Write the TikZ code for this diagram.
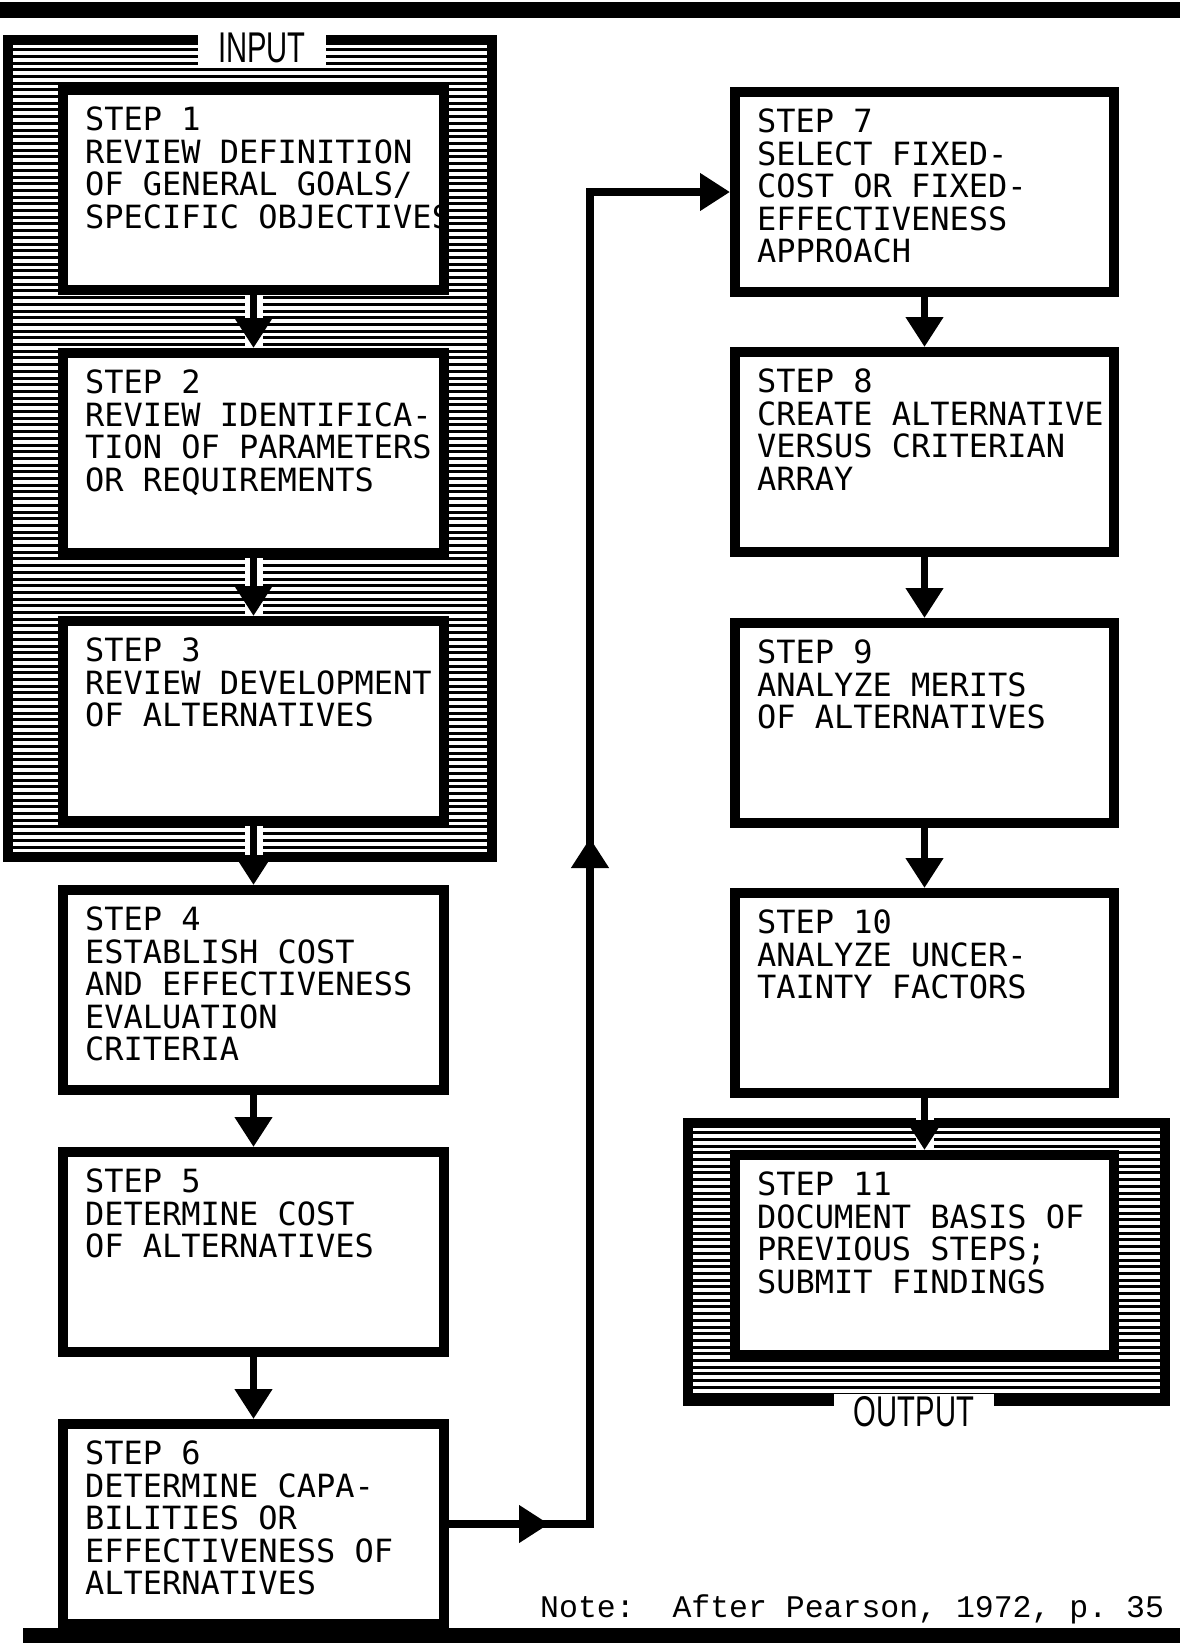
\documentclass[tikz,border=0pt]{standalone}
\usepackage{fontspec}
\newfontfamily\stepfont{DejaVu Sans Mono}
\newfontfamily\notefont{Liberation Mono}
\newfontfamily\framefont[FakeStretch=0.68]{Liberation Sans}
\usetikzlibrary{arrows.meta,decorations.markings}

\tikzset{
  stepbox/.style={draw, line width=10pt, fill=white, minimum width=381pt, minimum height=200pt, inner sep=0pt},
  steptext/.style={anchor=north west, align=left, inner xsep=27pt, inner ysep=22pt, outer sep=0pt,
    font=\stepfont\fontsize{32}{32.5}\selectfont},
  frame/.style={line width=10pt},
  hatch/.style={line width=3pt},
  framelabel/.style={fill=white, inner xsep=20pt, inner ysep=3pt, font=\framefont\fontsize{43}{43}\selectfont},
  flow/.style={line width=7.5pt, ->},
  halo/.style={draw=white, line width=18pt},
  link/.style={line width=7.5pt, ->, postaction={decorate},
    decoration={markings,
      mark=at position 100pt with {\arrow{>}},
      mark=at position 827pt with {\arrow{>}}}}
}

\begin{document}
\begin{tikzpicture}[x=1pt,y=-1pt,>={Triangle[width=36pt,length=30pt]}]
    \useasboundingbox (0,0) rectangle (1180,1643);

    % Rules
    \fill (0,2) rectangle (1180,18);
    \fill (23,1628) rectangle (1180,1643);

    % Shaded frames
    \begin{scope}
        \clip (8,40) rectangle (492,857);
        \foreach \i in {0,...,122}
            \draw[hatch] (8,{43+6.7*\i}) -- (492,{43+6.7*\i});
    \end{scope}
    \draw[frame] (8,40) rectangle (492,857);
    \begin{scope}
        \clip (688,1123) rectangle (1165,1401);
        \foreach \i in {0,...,41}
            \draw[hatch] (688,{1126+6.7*\i}) -- (1165,{1126+6.7*\i});
    \end{scope}
    \draw[frame] (688,1123) rectangle (1165,1401);

    % Left column
    \node[stepbox] (s1) at (253.5,190) {};
    \node[stepbox] (s2) at (253.5,453) {};
    \node[stepbox] (s3) at (253.5,721) {};
    \node[stepbox] (s4) at (253.5,990) {};
    \node[stepbox] (s5) at (253.5,1252) {};
    \node[stepbox] (s6) at (253.5,1524) {};

    % Right column
    \node[stepbox, minimum width=379pt] (s7) at (924.5,192) {};
    \node[stepbox, minimum width=379pt] (s8) at (924.5,452) {};
    \node[stepbox, minimum width=379pt] (s9) at (924.5,723) {};
    \node[stepbox, minimum width=379pt] (s10) at (924.5,993) {};
    \node[stepbox, minimum width=379pt] (s11) at (924.5,1255) {};

    \node[steptext] (t1) at (s1.north west) {STEP 1\\REVIEW DEFINITION\\OF GENERAL GOALS/\\SPECIFIC OBJECTIVES};
    \node[steptext] (t2) at (s2.north west) {STEP 2\\REVIEW IDENTIFICA-\\TION OF PARAMETERS\\OR REQUIREMENTS};
    \node[steptext] (t3) at (s3.north west) {STEP 3\\REVIEW DEVELOPMENT\\OF ALTERNATIVES};
    \node[steptext] (t4) at (s4.north west) {STEP 4\\ESTABLISH COST\\AND EFFECTIVENESS\\EVALUATION\\CRITERIA};
    \node[steptext] (t5) at (s5.north west) {STEP 5\\DETERMINE COST\\OF ALTERNATIVES};
    \node[steptext] (t6) at (s6.north west) {STEP 6\\DETERMINE CAPA-\\BILITIES OR\\EFFECTIVENESS OF\\ALTERNATIVES};
    \node[steptext] (t7) at (s7.north west) {STEP 7\\SELECT FIXED-\\COST OR FIXED-\\EFFECTIVENESS\\APPROACH};
    \node[steptext] (t8) at (s8.north west) {STEP 8\\CREATE ALTERNATIVE\\VERSUS CRITERIAN\\ARRAY};
    \node[steptext] (t9) at (s9.north west) {STEP 9\\ANALYZE MERITS\\OF ALTERNATIVES};
    \node[steptext] (t10) at (s10.north west) {STEP 10\\ANALYZE UNCER-\\TAINTY FACTORS};
    \node[steptext] (t11) at (s11.north west) {STEP 11\\DOCUMENT BASIS OF\\PREVIOUS STEPS;\\SUBMIT FINDINGS};

    % Frame labels
    \node[framelabel] (input) at (262,48) {INPUT};
    \node[framelabel] (output) at (914,1412) {OUTPUT};

    % Arrows
    \foreach \a/\b in {s1/s2, s2/s3, s3/s4, s10/s11}
        \draw[halo] (\a) -- (\b);
    \foreach \a/\b in {s1/s2, s2/s3, s3/s4, s4/s5, s5/s6, s7/s8, s8/s9, s9/s10, s10/s11}
        \draw[flow] (\a) -- (\b);
    \draw[link] (s6.east) -| ([xshift=-140pt]s7.west) -- (s7.west);

    % Source
    \node[anchor=base west, inner sep=0pt, font=\notefont\fontsize{31.5}{31.5}\selectfont] (note)
        at (540,1617) {Note:~~After Pearson, 1972, p.~35};
\end{tikzpicture}
\end{document}
